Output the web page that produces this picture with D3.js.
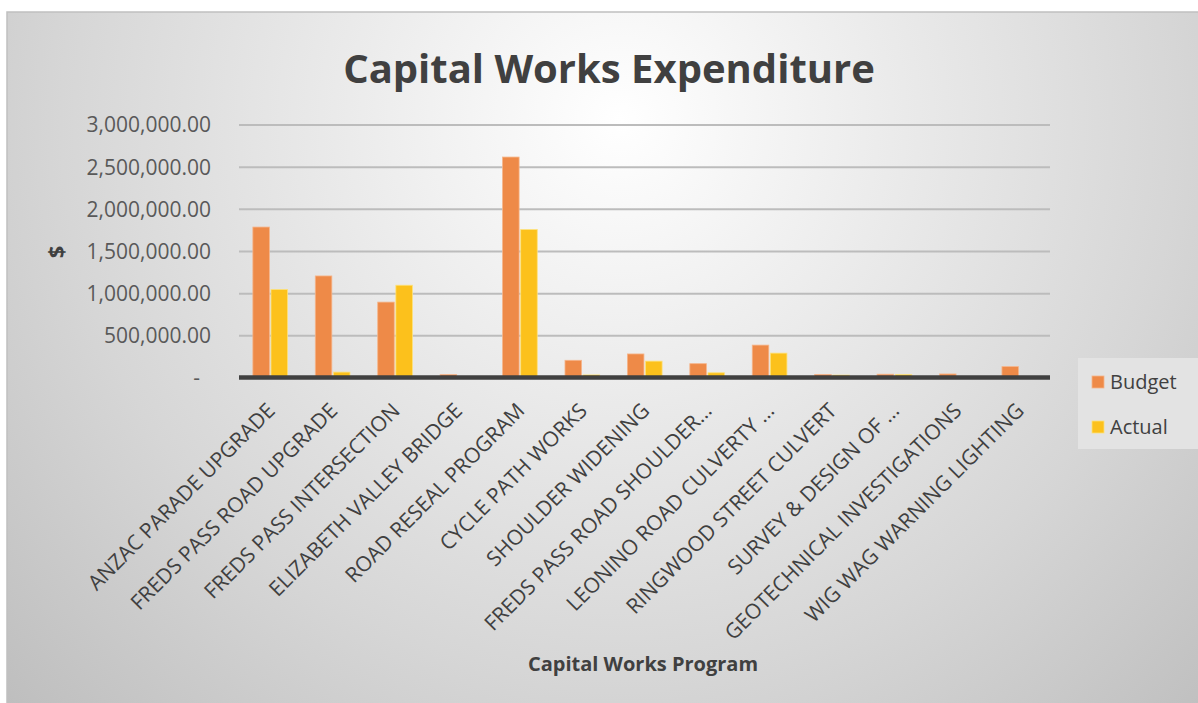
<!DOCTYPE html>
<html>
<head>
<meta charset="utf-8">
<script src="https://cdn.jsdelivr.net/npm/d3@7"></script>
<style>
  body { margin: 0; background: #fff; }
  svg text { font-family: "Open Sans", sans-serif; }
</style>
</head>
<body>
<svg id="chart" width="1198" height="703"></svg>
<script>
// chart data
const categories = [
    "ANZAC PARADE UPGRADE",
    "FREDS PASS ROAD UPGRADE",
    "FREDS PASS INTERSECTION",
    "ELIZABETH VALLEY BRIDGE",
    "ROAD RESEAL PROGRAM",
    "CYCLE PATH WORKS",
    "SHOULDER WIDENING",
    "FREDS PASS ROAD SHOULDER…",
    "LEONINO ROAD CULVERTY …",
    "RINGWOOD STREET CULVERT",
    "SURVEY & DESIGN OF …",
    "GEOTECHNICAL INVESTIGATIONS",
    "WIG WAG WARNING LIGHTING"
];
const budget = [1790000, 1210000, 900000, 40000, 2620000, 210000, 285000, 170000, 390000, 42000, 45000, 48000, 135000];
const actual = [1050000, 70000, 1100000, 0, 1760000, 36000, 200000, 62000, 295000, 34000, 40000, 0, 0];
const seriesNames = ["Budget", "Actual"];
const yTicks = [0, 500000, 1000000, 1500000, 2000000, 2500000, 3000000];

const colors = { Budget: "#ee8a48", Actual: "#fcc11c" };
const strokes = { Budget: "#f6b58a", Actual: "#fde17a" };

const svg = d3.select("#chart");

// card background with soft radial shading
const defs = svg.append("defs");
const grad = defs.append("radialGradient")
    .attr("id", "bg")
    .attr("gradientUnits", "userSpaceOnUse")
    .attr("cx", 620).attr("cy", 120).attr("r", 860);
grad.append("stop").attr("offset", "0").attr("stop-color", "#ffffff");
grad.append("stop").attr("offset", "0.3").attr("stop-color", "#ececec");
grad.append("stop").attr("offset", "0.65").attr("stop-color", "#d6d6d6");
grad.append("stop").attr("offset", "1").attr("stop-color", "#bdbdbd");

svg.append("rect")
    .attr("x", 7).attr("y", 12)
    .attr("width", 1200).attr("height", 700)
    .attr("fill", "url(#bg)")
    .attr("stroke", "#c0c0c0")
    .attr("stroke-width", 1.5);

// scales
const x = d3.scaleBand()
    .domain(categories)
    .range([239, 1050.5])
    .padding(0);

const y = d3.scaleLinear()
    .domain([0, 3000000])
    .range([378, 125]);

const barW = x.bandwidth() * 0.265;
const gap = 1.6;

// gridlines
svg.append("g")
    .selectAll("line")
    .data(yTicks.filter(d => d > 0))
    .join("line")
    .attr("x1", 239).attr("x2", 1050)
    .attr("y1", d => y(d)).attr("y2", d => y(d))
    .attr("stroke", "#bcbcbc")
    .attr("stroke-width", 2);

// y tick labels
const fmt = d3.format(",.2f");
svg.append("g")
    .selectAll("text")
    .data(yTicks)
    .join("text")
    .attr("x", d => d === 0 ? 200 : 211)
    .attr("y", d => y(d))
    .attr("dy", "0.35em")
    .attr("text-anchor", "end")
    .attr("fill", "#595959")
    .attr("font-size", 21)
    .text(d => d === 0 ? "-" : fmt(d));

// bars
const rows = categories.map((c, i) => ({ cat: c, Budget: budget[i], Actual: actual[i] }));
const groups = svg.append("g")
    .selectAll("g")
    .data(rows)
    .join("g")
    .attr("transform", d => `translate(${x(d.cat) + x.bandwidth() / 2},0)`);

groups.selectAll("rect")
    .data(d => seriesNames.map((s, j) => ({ s, j, v: d[s] })))
    .join("rect")
    .filter(d => d.v > 0)
    .attr("x", d => d.j === 0 ? -barW - gap / 2 : gap / 2)
    .attr("width", barW)
    .attr("y", d => y(d.v))
    .attr("height", d => y(0) - y(d.v))
    .attr("fill", d => colors[d.s])
    .attr("stroke", d => strokes[d.s])
    .attr("stroke-width", 0.8);

// category axis line
svg.append("line")
    .attr("x1", 239).attr("x2", 1050)
    .attr("y1", 377.5).attr("y2", 377.5)
    .attr("stroke", "#404040")
    .attr("stroke-width", 4.5);

// rotated category labels
svg.append("g")
    .selectAll("text")
    .data(categories)
    .join("text")
    .attr("transform", d => `translate(${x(d) + x.bandwidth() / 2 + 6},${412}) rotate(-45)`)
    .attr("text-anchor", "end")
    .attr("fill", "#404040")
    .attr("font-size", 21)
    .text(d => d);

// titles
svg.append("text")
    .attr("x", 609).attr("y", 83)
    .attr("text-anchor", "middle")
    .attr("font-size", 40)
    .attr("font-weight", "bold")
    .attr("fill", "#404040")
    .text("Capital Works Expenditure");

svg.append("text")
    .attr("x", 643).attr("y", 671)
    .attr("text-anchor", "middle")
    .attr("font-size", 20)
    .attr("font-weight", "bold")
    .attr("fill", "#404040")
    .text("Capital Works Program");

svg.append("text")
    .attr("transform", "translate(56,252) rotate(-90)")
    .attr("text-anchor", "middle")
    .attr("dy", "0.35em")
    .attr("font-size", 22)
    .attr("font-weight", "bold")
    .attr("fill", "#404040")
    .text("$");

// legend
const legend = svg.append("g");
legend.append("rect")
    .attr("x", 1078).attr("y", 358)
    .attr("width", 125).attr("height", 91)
    .attr("fill", "#e3e3e3");

const items = legend.selectAll("g")
    .data(seriesNames)
    .join("g")
    .attr("transform", (d, i) => `translate(1092,${376 + i * 45})`);
items.append("rect")
    .attr("width", 12).attr("height", 12)
    .attr("fill", d => colors[d])
    .attr("stroke", d => strokes[d])
    .attr("stroke-width", 0.8);
items.append("text")
    .attr("x", 18).attr("y", 6)
    .attr("dy", "0.35em")
    .attr("font-size", 20)
    .attr("fill", "#404040")
    .text(d => d);
</script>
</body>
</html>
